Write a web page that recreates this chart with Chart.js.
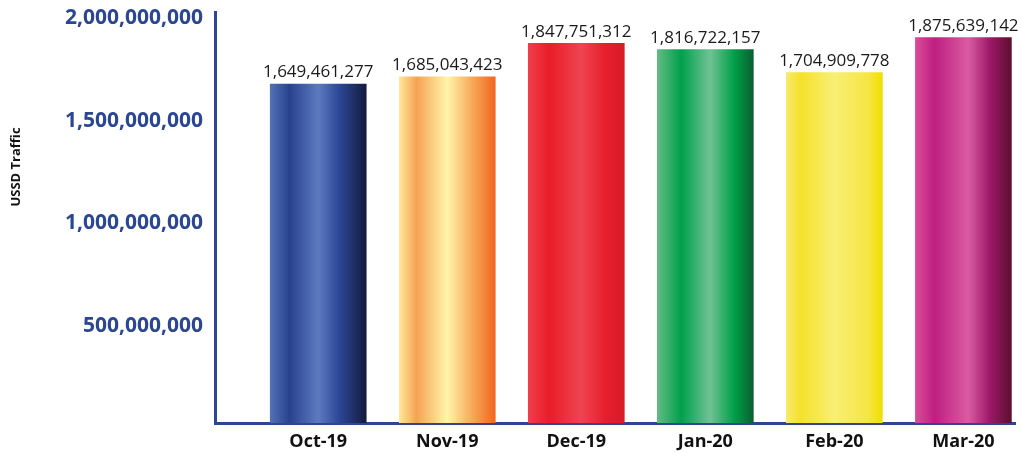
<!DOCTYPE html>
<html>
<head>
<meta charset="utf-8">
<script src="https://cdn.jsdelivr.net/npm/chart.js@4"></script>
<style>
  html, body { margin: 0; padding: 0; background: #fff; }
  #wrap { width: 1021px; height: 459px; position: relative; }
</style>
</head>
<body>
<div id="wrap"><canvas id="chart"></canvas></div>
<script>
const months = ['Oct-19', 'Nov-19', 'Dec-19', 'Jan-20', 'Feb-20', 'Mar-20']
const traffic = [1649461277, 1685043423, 1847751312, 1816722157, 1704909778, 1875639142]
const yTicks = [500000000, 1000000000, 1500000000, 2000000000]

// cylinder-like horizontal gradients, one per bar
const barStops = [
  [[0, '#5471b6'], [0.2, '#28428f'], [0.5, '#5d7abf'], [0.72, '#2b4796'], [1, '#151a3e']],
  [[0, '#fde89c'], [0.18, '#f7a253'], [0.5, '#fff5aa'], [0.75, '#f8ab5c'], [1, '#f0661f']],
  [[0, '#ef3e4c'], [0.22, '#e91d27'], [0.55, '#ef4452'], [0.8, '#e81f2c'], [1, '#d71b27']],
  [[0, '#62bb80'], [0.25, '#00a14d'], [0.55, '#70c293'], [0.8, '#00a049'], [1, '#0b5f30']],
  [[0, '#f7ea6a'], [0.15, '#f5e12a'], [0.5, '#f8ef75'], [0.85, '#f6e544'], [1, '#f1df00']],
  [[0, '#d94c9b'], [0.2, '#bf1f80'], [0.55, '#da5ba2'], [0.78, '#9c1867'], [1, '#5c0f2e']]
]

const barWidth = 96
const axisBlue = '#2b4791'

function barFill(c) {
  const chart = c.chart
  const xs = chart.scales.x
  if (!xs || !chart.chartArea) return '#888'
  const cx = xs.getPixelForValue(c.dataIndex)
  const g = chart.ctx.createLinearGradient(cx - barWidth / 2, 0, cx + barWidth / 2, 0)
  barStops[c.dataIndex].forEach(s => g.addColorStop(s[0], s[1]))
  return g
}

const valueLabels = {
  id: 'valueLabels',
  afterDatasetsDraw(chart) {
    const ctx = chart.ctx
    const meta = chart.getDatasetMeta(0)
    ctx.save()
    ctx.font = '17px "Open Sans"'
    ctx.fillStyle = '#1a1a1a'
    ctx.textAlign = 'center'
    ctx.textBaseline = 'bottom'
    meta.data.forEach((bar, i) => {
      ctx.fillText(traffic[i].toLocaleString('en-US'), bar.x, bar.y - 3)
    })
    ctx.restore()
  }
}

const yTitle = {
  id: 'yTitle',
  afterDraw(chart) {
    const ctx = chart.ctx
    ctx.save()
    ctx.translate(16, 167)
    ctx.rotate(-Math.PI / 2)
    ctx.font = 'bold 13px "Open Sans"'
    ctx.fillStyle = '#111'
    ctx.textAlign = 'center'
    ctx.textBaseline = 'middle'
    ctx.fillText('USSD Traffic', 0, 0)
    ctx.restore()
  }
}

new Chart(document.getElementById('chart'), {
  type: 'bar',
  data: {
    datasets: [{
      data: traffic.map((v, i) => ({ x: i, y: v })),
      backgroundColor: barFill,
      borderWidth: 0,
      barThickness: barWidth
    }]
  },
  options: {
    responsive: true,
    maintainAspectRatio: false,
    animation: false,
    layout: { padding: { top: 12, right: 6, left: 0, bottom: 0 } },
    plugins: { legend: { display: false }, tooltip: { enabled: false } },
    scales: {
      x: {
        type: 'linear',
        offset: false,
        min: -0.8,
        max: 5.4,
        grid: { display: false, drawTicks: false },
        border: { color: axisBlue, width: 3 },
        afterBuildTicks: s => { s.ticks = months.map((m, i) => ({ value: i })) },
        afterFit: s => { s.height = 36 },
        ticks: {
          autoSkip: false,
          maxRotation: 0,
          padding: 8,
          color: '#111',
          font: { family: 'Open Sans', weight: 'bold', size: 18 },
          callback: v => months[v] || ''
        }
      },
      y: {
        min: 0,
        max: 2000000000,
        grid: { display: false, drawTicks: false },
        border: { color: axisBlue, width: 3 },
        afterBuildTicks: s => { s.ticks = yTicks.map(v => ({ value: v })) },
        afterFit: s => { s.width = 215; s.paddingTop = 0; s.paddingBottom = 0 },
        ticks: {
          padding: 12,
          labelOffset: 6,
          color: axisBlue,
          font: { family: 'Open Sans', weight: 'bold', size: 21 },
          callback: v => v.toLocaleString('en-US')
        }
      }
    }
  },
  plugins: [valueLabels, yTitle]
})
</script>
</body>
</html>
